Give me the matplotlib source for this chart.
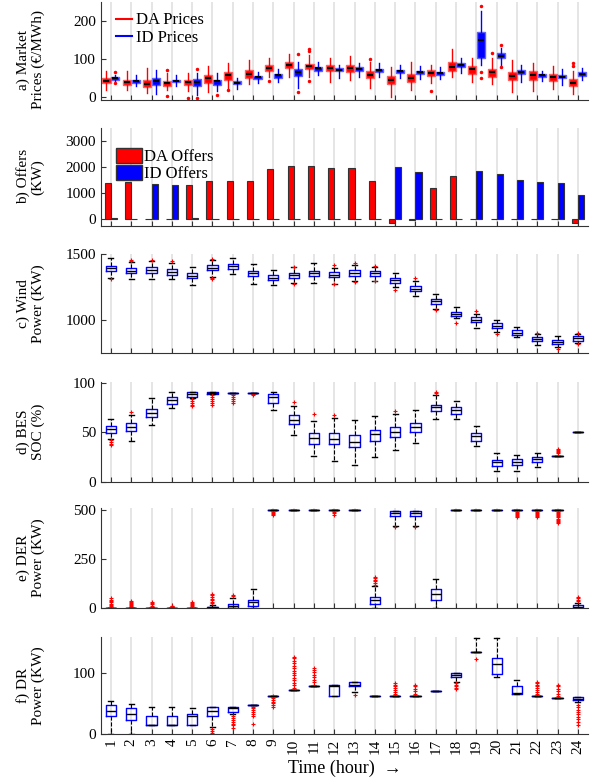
import numpy as np
import matplotlib.pyplot as plt
from matplotlib.lines import Line2D
from matplotlib.patches import Patch

plt.rcParams['font.family'] = ['Liberation Serif', 'DejaVu Serif']
plt.rcParams['font.size'] = 11

hours = np.arange(1, 25)

# a) market prices (box stats per hour)
da_q1 = [35, 30, 26, 27, 31, 35, 44, 50, 68, 77, 72, 69, 65, 49, 32, 38, 55, 68, 61, 53, 43, 43, 41, 27]
da_med = [42, 39, 34, 37, 38, 50, 58, 60, 77, 85, 80, 76, 77, 58, 44, 50, 63, 79, 73, 64, 54, 58, 51, 37]
da_q3 = [48, 44, 44, 42, 43, 56, 64, 70, 83, 93, 86, 85, 83, 68, 54, 60, 70, 93, 80, 74, 64, 67, 60, 47]
da_lo = [17, 18, 10, 17, 15, 11, 20, 34, 53, 51, 51, 39, 43, 23, 0, 17, 36, 51, 38, 34, 13, 15, 21, 6]
da_hi = [68, 69, 75, 62, 62, 80, 89, 97, 103, 112, 110, 103, 108, 92, 79, 91, 83, 125, 103, 103, 97, 90, 81, 67]
da_out = [[], [], [], [71, 2], [-5], [], [17], [], [42], [], [126, 120, 42], [],
          [], [100], [], [], [16], [], [], [116], [], [], [], [89, 80]]

id_q1 = [45, 37, 31, 38, 27, 30, 32, 46, 50, 54, 69, 67, 69, 65, 63, 61, 58, 78, 103, 102, 59, 52, 48, 55]
id_med = [49, 42, 42, 42, 39, 40, 37, 51, 56, 66, 75, 70, 74, 70, 67, 65, 63, 83, 150, 108, 65, 57, 53, 61]
id_q3 = [51, 45, 49, 45, 46, 44, 40, 55, 59, 73, 79, 75, 78, 74, 70, 69, 66, 89, 170, 116, 70, 60, 58, 65]
id_lo = [40, 28, 7, 27, 5, 15, 21, 37, 38, 23, 58, 50, 53, 53, 50, 47, 46, 63, 84, 79, 38, 41, 30, 43]
id_hi = [58, 58, 71, 56, 63, 62, 50, 66, 72, 92, 92, 85, 90, 89, 83, 82, 79, 103, 226, 130, 84, 67, 73, 77]
id_out = [[64, 36], [], [], [], [74, -4], [4], [], [], [], [112, 12], [], [],
          [], [], [], [], [], [], [241, 66, 49], [137, 78], [], [], [], []]

# b) offers
da_offers = [1400, 1410, 0, 0, 1320, 1450, 1475, 1450, 1920, 2050, 2040, 1950,
             1960, 1450, -150, -30, 1190, 1670, 0, 0, 0, 0, 0, -150]
id_offers = [40, 0, 1360, 1330, 30, 0, 0, 0, 0, 0, 0, 0,
             0, 0, 1990, 1810, 0, 0, 1850, 1730, 1500, 1420, 1385, 940]

# c) wind power
wind_q1 = [1373, 1353, 1358, 1345, 1315, 1376, 1386, 1332, 1302, 1320, 1335, 1325,
           1335, 1335, 1284, 1218, 1124, 1030, 985, 942, 888, 840, 822, 845]
wind_med = [1393, 1373, 1381, 1365, 1335, 1396, 1406, 1355, 1320, 1343, 1358, 1345,
            1358, 1353, 1305, 1239, 1142, 1048, 1003, 959, 906, 855, 838, 863]
wind_q3 = [1411, 1393, 1401, 1383, 1353, 1416, 1424, 1373, 1338, 1360, 1373, 1365,
           1376, 1368, 1322, 1259, 1157, 1063, 1023, 975, 924, 871, 853, 878]
wind_lo = [1322, 1310, 1310, 1310, 1264, 1330, 1348, 1277, 1264, 1279, 1284, 1277,
           1297, 1297, 1254, 1180, 1081, 1018, 942, 909, 871, 810, 797, 827]
wind_hi = [1467, 1442, 1444, 1429, 1401, 1457, 1467, 1424, 1381, 1401, 1429, 1398,
           1414, 1404, 1360, 1297, 1195, 1102, 1050, 1005, 947, 896, 883, 898]
wind_out = [[1310], [1457, 1449], [1457], [1444], [], [1462, 1320, 1312], [], [], [], [1404, 1272], [], [1416, 1272],
            [1430, 1290], [1408, 1294], [1226], [1315], [1078], [977], [1066], [898], [], [906], [784], [906, 820]]

# d) BES state of charge
soc_q1 = [49, 51, 65, 79, 86, 89, 90, 90, 80, 58, 38, 38, 35, 41, 45, 50, 71, 68, 41, 16, 17, 20, 26, 50]
soc_med = [53, 55, 69, 83, 89, 90, 90, 90, 86, 62, 44, 43, 40, 48, 50, 55, 75, 72, 46, 20, 20, 23, 26, 50]
soc_q3 = [56, 59, 73, 86, 91, 90.5, 90, 90, 89, 67, 49, 49, 47, 52, 55, 59, 78, 75, 49, 22, 23, 25, 26, 50]
soc_lo = [43, 41, 57, 74, 85, 89, 90, 90, 72, 47, 26, 21, 17, 25, 32, 39, 63, 63, 36, 11, 11, 15, 26, 50]
soc_hi = [63, 67, 85, 91, 91, 90.5, 90, 90, 91, 76, 61, 64, 62, 66, 68, 72, 88, 82, 56, 29, 27, 29, 26, 50]
soc_out = [[42, 40, 38, 37], [70], [], [], [84, 82, 80, 78, 76], [88, 86, 84, 82, 80, 78],
           [88, 86, 84, 82, 80], [89, 88], [], [81], [68], [67], [], [], [71], [],
           [91, 89.5], [], [], [], [], [], [33, 32, 31, 30, 29], []]

# e) DER power
der_q1 = [0, 0, 0, 0, 0, 0, 0, 7, 500, 500, 500, 500, 500, 17, 469, 469, 38, 500, 500, 500, 500, 500, 500, 0]
der_med = [0, 0, 0, 0, 0, 2, 10, 26, 500, 500, 500, 500, 500, 38, 484, 484, 72, 500, 500, 500, 500, 500, 500, 3]
der_q3 = [0, 0, 0, 0, 0, 5, 20, 41, 500, 500, 500, 500, 500, 55, 498, 498, 95, 500, 500, 500, 500, 500, 500, 12]
der_lo = [0, 0, 0, 0, 0, 0, 0, 0, 500, 500, 500, 500, 500, 0, 417, 417, 0, 500, 500, 500, 500, 500, 500, 0]
der_hi = [0, 0, 0, 0, 0, 15, 50, 97, 500, 500, 500, 500, 500, 110, 498, 498, 147, 500, 500, 500, 500, 500, 500, 24]
der_out = [[47, 40, 33, 27, 20, 14, 8], [35, 30, 25, 20, 15, 10, 5], [28, 22, 16, 10, 5], [10, 6, 3],
           [30, 24, 18, 12, 6], [70, 62, 54, 46, 38, 30, 22], [64, 58], [], [492, 486, 480, 474], [], [],
           [492, 485, 478], [], [158, 150, 142, 134, 126, 118], [414], [414], [], [], [], [],
           [494, 488, 482, 476, 470, 465], [494, 488, 482, 476, 470, 465],
           [494, 488, 482, 476, 470, 464, 458, 452, 446, 440, 434], [55, 48, 41, 34]]

# f) DR power
dr_q1 = [29, 23, 15, 14, 15, 29, 36, 48, 63, 72, 78, 62, 78, 63, 63, 63, 70, 93, 134, 99, 66, 63, 59, 55]
dr_med = [37, 33, 15, 14, 29, 38, 42, 48, 63, 72, 78, 79, 81, 63, 63, 63, 70, 97, 134, 115, 67, 63, 59, 58]
dr_q3 = [48, 43, 30, 29, 32, 44, 44, 48, 63, 72, 78, 81, 85, 63, 63, 63, 70, 100, 134, 125, 78, 63, 59, 61]
dr_lo = [0, 0, 15, 14, 15, 11, 32, 48, 63, 72, 78, 62, 69, 63, 63, 63, 70, 85, 134, 93, 66, 63, 59, 52]
dr_hi = [54, 49, 45, 45, 43, 45, 44, 48, 63, 72, 78, 81, 85, 63, 63, 63, 70, 100, 158, 158, 89, 63, 59, 61]
dr_out = [[], [], [], [], [], [8, 5, 2, 0], [29, 26, 23, 20, 17, 14, 10], [45, 42, 39, 36, 33, 30, 17],
          [62, 59, 56, 53, 50, 47, 45], [76, 80, 84, 88, 92, 96, 100, 104, 108, 112, 116, 120, 124, 127],
          [81, 85, 89, 93, 97, 101, 105, 108], [], [64], [], [66, 69, 72, 75, 78, 81, 84], [66, 70, 74, 78, 80],
          [], [84, 81, 78, 75, 73], [123], [], [], [66, 69, 72, 75, 78, 81, 84, 86], [62, 66, 70, 74, 78, 81],
          [48, 44, 40, 36, 32, 28, 24, 20, 15]]


def make_stats(q1, med, q3, lo, hi, out):
    return [dict(q1=a, med=m, q3=b, whislo=l, whishi=h, fliers=f)
            for a, m, b, l, h, f in zip(q1, med, q3, lo, hi, out)]


fig = plt.figure(figsize=(6, 7.84), dpi=100)
left, width = 0.168, 0.812
tops = [0.997, 0.837, 0.676, 0.513, 0.352, 0.1875]
bots = [0.873, 0.712, 0.5494, 0.3858, 0.2251, 0.0638]
axes = [fig.add_axes([left, b, width, t - b]) for t, b in zip(tops, bots)]

for ax in axes:
    ax.set_xlim(0.5, 24.5)
    ax.set_xticks(hours)
    ax.xaxis.grid(True, color='#e3e3e3', lw=1.3)
    ax.set_axisbelow(True)
    ax.spines['top'].set_visible(False)
    ax.spines['right'].set_visible(False)
    for s in ['left', 'bottom']:
        ax.spines[s].set_color('#333333')
    ax.tick_params(direction='in', length=3.5, width=0.8, colors='#333333',
                   labelcolor='black', labelsize=11)
    ax.tick_params(axis='x', labelbottom=False)
    ax.yaxis.set_label_coords(-0.115, 0.5)

# a) prices
ax = axes[0]
flier_a = dict(marker='.', mfc='red', mec='red', ms=3, ls='none')
ax.bxp(make_stats(da_q1, da_med, da_q3, da_lo, da_hi, da_out), positions=hours - 0.22, widths=0.4,
       patch_artist=True, showcaps=False, manage_ticks=False,
       boxprops=dict(facecolor='red', edgecolor='#ff6060', lw=1),
       whiskerprops=dict(color='red', lw=1), medianprops=dict(visible=False), flierprops=flier_a)
ax.bxp(make_stats(id_q1, id_med, id_q3, id_lo, id_hi, id_out), positions=hours + 0.22, widths=0.4,
       patch_artist=True, showcaps=False, manage_ticks=False,
       boxprops=dict(facecolor='blue', edgecolor='#6060ff', lw=1),
       whiskerprops=dict(color='blue', lw=1), medianprops=dict(visible=False), flierprops=flier_a)
ax.plot(hours - 0.22, da_med, ls='none', marker='_', color='black', ms=4, mew=1.5)
ax.plot(hours + 0.22, id_med, ls='none', marker='_', color='black', ms=4, mew=1.5)
ax.set_ylim(-8, 250)
ax.set_yticks([0, 100, 200])
ax.set_ylabel('a) Market\nPrices (€/MWh)', fontsize=11, linespacing=1.1)
ax.yaxis.set_label_coords(-0.115, 0.41)
ax.legend([Line2D([], [], color='red', lw=1.5), Line2D([], [], color='blue', lw=1.5)],
          ['DA Prices', 'ID Prices'], loc='upper left', bbox_to_anchor=(0.01, 1.0),
          frameon=False, fontsize=12, handlelength=1.0, handletextpad=0.2,
          labelspacing=0.1, borderaxespad=0.2)

# b) offers
ax = axes[1]
ax.bar(hours - 0.15, da_offers, width=0.3, color='red', edgecolor='#333333', lw=0.8)
ax.bar(hours + 0.15, id_offers, width=0.3, color='blue', edgecolor='#333333', lw=0.8)
ax.set_ylim(-250, 3500)
ax.set_yticks([0, 1000, 2000, 3000])
ax.set_ylabel('b) Offers\n(KW)', fontsize=11, linespacing=1.1)
ax.legend([Patch(facecolor='red', edgecolor='#333333'), Patch(facecolor='blue', edgecolor='#333333')],
          ['DA Offers', 'ID Offers'], loc='upper left', bbox_to_anchor=(0.01, 0.9),
          frameon=False, fontsize=12, handlelength=1.6, handleheight=1.0,
          handletextpad=0.1, labelspacing=0.0, borderaxespad=0.2)

# c)-f) single box plots
box_kw = dict(widths=0.5, manage_ticks=False, capwidths=0.25,
              boxprops=dict(color='blue', lw=1),
              whiskerprops=dict(color='black', ls='--', lw=0.8),
              capprops=dict(color='black', lw=1),
              medianprops=dict(color='black', lw=1),
              flierprops=dict(marker='+', mec='red', ms=3, mew=0.8, ls='none'))

panels = [
    (axes[2], make_stats(wind_q1, wind_med, wind_q3, wind_lo, wind_hi, wind_out),
     (750, 1500), [1000, 1500], 'c) Wind\nPower (KW)'),
    (axes[3], make_stats(soc_q1, soc_med, soc_q3, soc_lo, soc_hi, soc_out),
     (0, 101), [0, 50, 100], 'd) BES\nSOC (%)'),
    (axes[4], make_stats(der_q1, der_med, der_q3, der_lo, der_hi, der_out),
     (0, 512), [0, 250, 500], 'e) DER\nPower (KW)'),
    (axes[5], make_stats(dr_q1, dr_med, dr_q3, dr_lo, dr_hi, dr_out),
     (0, 159), [0, 100], 'f) DR\nPower (KW)'),
]
for ax, stats, ylim, yt, lab in panels:
    ax.bxp(stats, positions=hours, **box_kw)
    ax.set_ylim(*ylim)
    ax.set_yticks(yt)
    ax.set_ylabel(lab, fontsize=11, linespacing=1.1)

ax = axes[5]
ax.tick_params(axis='x', labelbottom=True, labelrotation=90)
ax.set_xlabel('Time (hour)  →', fontsize=13, labelpad=4)

plt.savefig('out.png', dpi=100)
